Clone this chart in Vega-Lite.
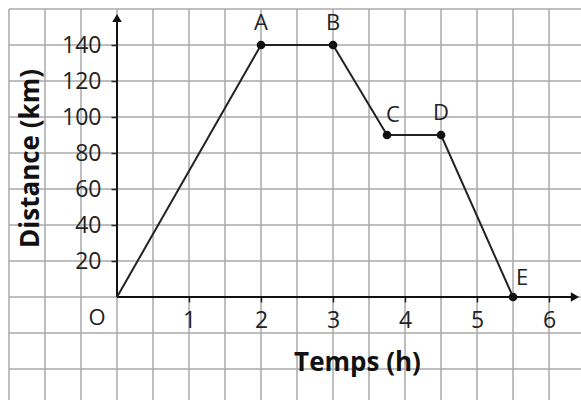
{
  "$schema": "https://vega.github.io/schema/vega-lite/v6.json",
  "width": 572,
  "height": 391,
  "padding": {"left": 9, "top": 9, "right": 0, "bottom": 0},
  "autosize": {"type": "none"},
  "background": "white",
  "config": {
    "view": {"stroke": null},
    "font": "Open Sans",
    "text": {"font": "Open Sans", "fontSize": 22, "color": "#222"}
  },
  "datasets": {
    "path": [
      {"t": 0, "d": 0, "label": "O"},
      {"t": 2, "d": 140, "label": "A"},
      {"t": 3, "d": 140, "label": "B"},
      {"t": 3.75, "d": 90, "label": "C"},
      {"t": 4.5, "d": 90, "label": "D"},
      {"t": 5.5, "d": 0, "label": "E"}
    ],
    "vgrid": [
      {"t": -1.5}, {"t": -1}, {"t": -0.5}, {"t": 0}, {"t": 0.5}, {"t": 1}, {"t": 1.5}, {"t": 2},
      {"t": 2.5}, {"t": 3}, {"t": 3.5}, {"t": 4}, {"t": 4.5}, {"t": 5}, {"t": 5.5}, {"t": 6}
    ],
    "hgrid": [
      {"d": -40}, {"d": -20}, {"d": 0}, {"d": 20}, {"d": 40}, {"d": 60}, {"d": 80},
      {"d": 100}, {"d": 120}, {"d": 140}, {"d": 160}
    ],
    "axes": [
      {"t": 0, "d": 0, "t2": 6.36, "d2": 0},
      {"t": 0, "d": 0, "t2": 0, "d2": 155}
    ],
    "arrows": [
      {"t": 6.36, "d": 0, "shape": "triangle-right"},
      {"t": 0, "d": 155, "shape": "triangle-up"}
    ]
  },
  "layer": [
    {
      "data": {"name": "vgrid"},
      "mark": {"type": "rule", "color": "#a9a9a9", "strokeWidth": 1.5},
      "encoding": {
        "x": {
          "field": "t", "type": "quantitative",
          "scale": {"domain": [-1.5, 6.444], "nice": false, "zero": false},
          "axis": {
            "orient": "bottom", "offset": -103, "zindex": 1,
            "values": [1, 2, 3, 4, 5, 6], "format": "d",
            "domain": false, "grid": false,
            "tickSize": 5, "tickColor": "#222", "tickWidth": 1.5,
            "labelFont": "Open Sans", "labelFontSize": 23, "labelColor": "#222", "labelPadding": 7,
            "title": "Temps (h)", "titleFont": "Open Sans", "titleFontSize": 26, "titleFontWeight": "bold",
            "titleColor": "#111", "titleX": 348, "titleY": 65, "titleBaseline": "middle", "titleAlign": "center"
          }
        }
      }
    },
    {
      "data": {"name": "hgrid"},
      "mark": {"type": "rule", "color": "#a9a9a9", "strokeWidth": 1.5},
      "encoding": {
        "y": {
          "field": "d", "type": "quantitative",
          "scale": {"domain": [-57.22, 160], "nice": false, "zero": false},
          "axis": {
            "orient": "left", "offset": -108, "zindex": 1,
            "values": [20, 40, 60, 80, 100, 120, 140], "format": "d",
            "domain": false, "grid": false,
            "tickSize": 6, "tickColor": "#222", "tickWidth": 1.5,
            "labelFont": "Open Sans", "labelFontSize": 23, "labelColor": "#222", "labelPadding": 10,
            "title": "Distance (km)", "titleFont": "Open Sans", "titleFontSize": 26, "titleFontWeight": "bold",
            "titleColor": "#111", "titleX": -87, "titleY": 149, "titleBaseline": "middle", "titleAlign": "center", "titleAngle": -90
          }
        }
      }
    },
    {
      "data": {"name": "axes"},
      "mark": {"type": "rule", "color": "#111", "strokeWidth": 2},
      "encoding": {
        "x": {"field": "t", "type": "quantitative"},
        "y": {"field": "d", "type": "quantitative"},
        "x2": {"field": "t2"},
        "y2": {"field": "d2"}
      }
    },
    {
      "data": {"name": "path"},
      "mark": {"type": "line", "color": "#222", "strokeWidth": 2},
      "encoding": {
        "x": {"field": "t", "type": "quantitative"},
        "y": {"field": "d", "type": "quantitative"}
      }
    },
    {
      "data": {"name": "path"},
      "transform": [{"filter": "datum.label != 'O'"}],
      "mark": {"type": "point", "filled": true, "color": "#111", "size": 75, "opacity": 1},
      "encoding": {
        "x": {"field": "t", "type": "quantitative"},
        "y": {"field": "d", "type": "quantitative"}
      }
    },
    {
      "data": {"name": "path"},
      "transform": [{"filter": "datum.label == 'A' || datum.label == 'B' || datum.label == 'D'"}],
      "mark": {"type": "text", "dy": -22, "align": "center", "baseline": "middle"},
      "encoding": {
        "x": {"field": "t", "type": "quantitative"},
        "y": {"field": "d", "type": "quantitative"},
        "text": {"field": "label"}
      }
    },
    {
      "data": {"name": "path"},
      "transform": [{"filter": "datum.label == 'C'"}],
      "mark": {"type": "text", "dx": 6, "dy": -20, "align": "center", "baseline": "middle"},
      "encoding": {
        "x": {"field": "t", "type": "quantitative"},
        "y": {"field": "d", "type": "quantitative"},
        "text": {"field": "label"}
      }
    },
    {
      "data": {"name": "path"},
      "transform": [{"filter": "datum.label == 'E'"}],
      "mark": {"type": "text", "dx": 9, "dy": -19, "align": "center", "baseline": "middle"},
      "encoding": {
        "x": {"field": "t", "type": "quantitative"},
        "y": {"field": "d", "type": "quantitative"},
        "text": {"field": "label"}
      }
    },
    {
      "data": {"name": "path"},
      "transform": [{"filter": "datum.label == 'O'"}],
      "mark": {"type": "text", "dx": -20, "dy": 21, "align": "center", "baseline": "middle"},
      "encoding": {
        "x": {"field": "t", "type": "quantitative"},
        "y": {"field": "d", "type": "quantitative"},
        "text": {"field": "label"}
      }
    },
    {
      "data": {"name": "arrows"},
      "mark": {"type": "point", "filled": true, "color": "#111", "size": 90, "opacity": 1},
      "encoding": {
        "x": {"field": "t", "type": "quantitative"},
        "y": {"field": "d", "type": "quantitative"},
        "shape": {"field": "shape", "type": "nominal", "scale": null, "legend": null}
      }
    }
  ]
}
